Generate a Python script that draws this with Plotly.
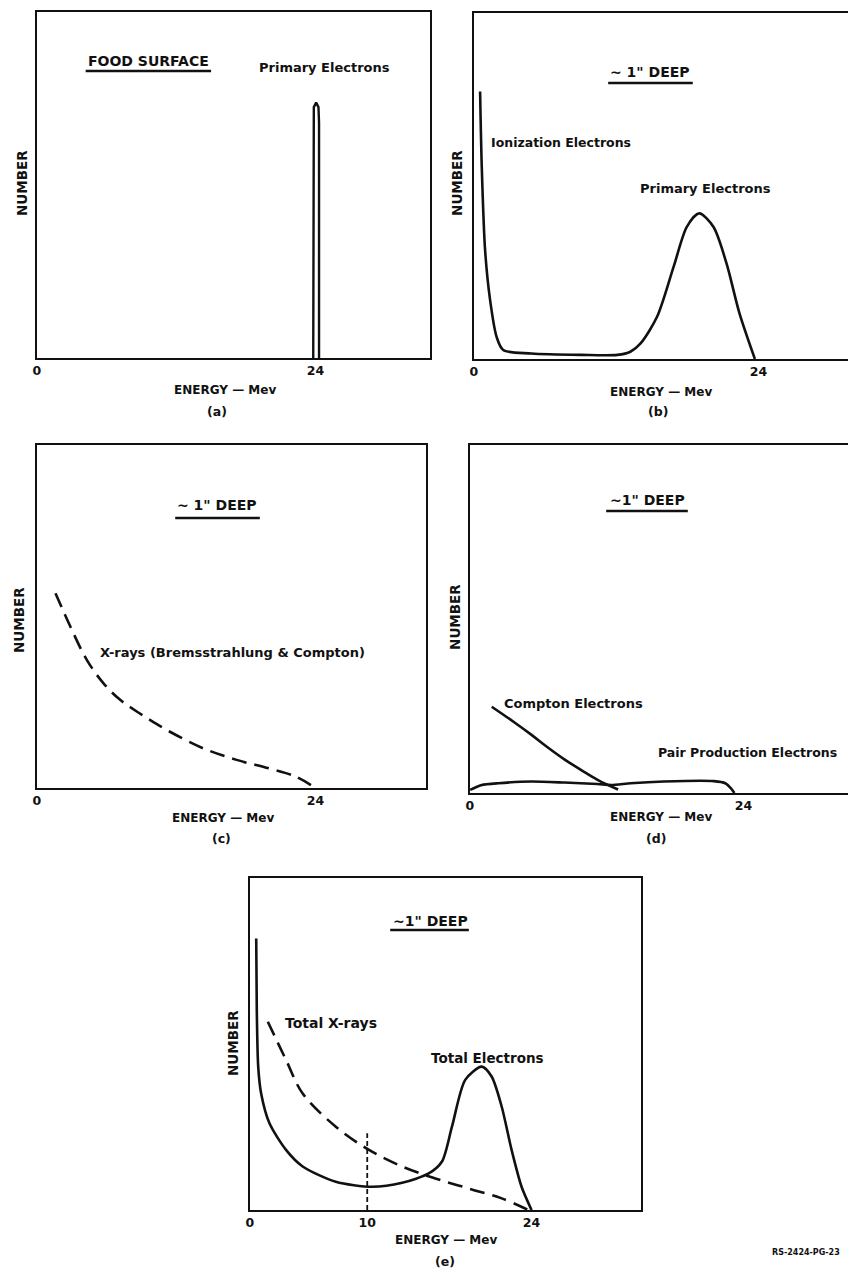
import plotly.graph_objects as go

# ---------------- data (energy in MeV, number in relative units 0-100) ----------------
a_primary_x = [23.8, 23.8, 23.85, 24.05, 24.25, 24.3, 24.3]
a_primary_y = [0, 68, 72.5, 73.8, 72.5, 68, 0]

b_elec_x = [0.53, 0.67, 0.95, 1.37, 1.92, 2.48, 4.85, 9.04, 12.1, 13.2, 14.06, 15.45,
            16.85, 17.96, 19.0, 20.2, 21.3, 22.4, 23.7]
b_elec_y = [77.3, 55.6, 31.5, 17.1, 6.4, 2.6, 1.6, 1.2, 1.2, 2.1, 4.5, 12.2,
            26.7, 38.2, 42.1, 38.2, 27.7, 13.2, 0]

c_xray_x = [1.6, 2.89, 4.31, 5.74, 7.17, 8.6, 10.0, 11.46, 14.3, 17.2, 20.0, 22.3, 24.0]
c_xray_y = [56.8, 47.0, 37.3, 30.5, 25.7, 22.3, 19.3, 16.4, 11.6, 8.2, 5.7, 3.3, 0]

d_compton_x = [1.92, 3.95, 5.41, 6.87, 8.32, 9.77, 11.2, 13.0]
d_compton_y = [24.8, 20.2, 16.7, 13.0, 9.6, 6.6, 3.8, 1.0]

d_pair_x = [0.03, 1.05, 2.5, 5.4, 8.3, 11.2, 12.4, 14.1, 17.0, 21.4, 22.4, 22.9, 23.2]
d_pair_y = [0.9, 2.3, 2.8, 3.3, 3.0, 2.6, 2.3, 2.8, 3.3, 3.4, 2.8, 1.3, 0]

e_elec_x = [0.54, 0.59, 0.71, 0.96, 1.67, 3.08, 4.5, 7.32, 10.4, 12.98, 15.24, 16.37,
            17.22, 18.35, 19.76, 20.6, 21.46, 22.3, 23.15, 24.0]
e_elec_y = [81.8, 60.2, 43.2, 35.1, 26.1, 18.1, 13.1, 8.5, 7.0, 8.2, 11.0, 14.6,
            25.1, 39.2, 43.2, 40.2, 31.1, 18.1, 7.0, 0]

e_xray_x = [1.53, 3.08, 4.5, 7.32, 10.15, 12.98, 15.8, 18.63, 21.46, 23.72]
e_xray_y = [56.7, 45.2, 35.1, 25.1, 18.1, 13.1, 9.5, 6.5, 3.5, 0]

e_marker_x = [10, 10]
e_marker_y = [0, 23.1]

ticks_abcd = [0, 24]
ticks_e = [0, 10, 24]

# ---------------- layout helpers ----------------
# the page body has an 8px margin; the figure is sized so it ends at the window edge
OFF = 8
W, H = 856 - OFF, 1276 - OFF
FONT = "DejaVu Sans"
INK = "#111111"


def px(x):
    return (x - OFF) / W


def py(y):
    return 1 - (y - OFF) / H


fig = go.Figure()

solid = dict(color=INK, width=2.6)
dashed = dict(color=INK, width=2.6, dash="15px,8px")

fig.add_trace(go.Scatter(x=a_primary_x, y=a_primary_y, mode="lines", line=dict(color=INK, width=2.4),
                         xaxis="x", yaxis="y"))
fig.add_trace(go.Scatter(x=b_elec_x, y=b_elec_y, mode="lines", line=solid, line_shape="spline",
                         line_smoothing=0.8, xaxis="x2", yaxis="y2"))
fig.add_trace(go.Scatter(x=c_xray_x, y=c_xray_y, mode="lines", line=dashed, line_shape="spline",
                         line_smoothing=1.0, xaxis="x3", yaxis="y3"))
fig.add_trace(go.Scatter(x=d_compton_x, y=d_compton_y, mode="lines", line=solid, line_shape="spline",
                         line_smoothing=1.0, xaxis="x4", yaxis="y4"))
fig.add_trace(go.Scatter(x=d_pair_x, y=d_pair_y, mode="lines", line=solid, line_shape="spline",
                         line_smoothing=0.6, xaxis="x4", yaxis="y4"))
fig.add_trace(go.Scatter(x=e_elec_x, y=e_elec_y, mode="lines", line=solid, line_shape="spline",
                         line_smoothing=0.75, xaxis="x5", yaxis="y5"))
fig.add_trace(go.Scatter(x=e_xray_x, y=e_xray_y, mode="lines", line=dashed, line_shape="spline",
                         line_smoothing=1.0, xaxis="x5", yaxis="y5"))
fig.add_trace(go.Scatter(x=e_marker_x, y=e_marker_y, mode="lines",
                         line=dict(color=INK, width=1.8, dash="5px,3px"), xaxis="x5", yaxis="y5"))

# panel geometry in pixels: (left, right, top, bottom, px per MeV, right side closed?, ticks)
panels = [
    (33, 428, 12, 358, 280 / 24, True, ticks_abcd),
    (472, 856, 13, 359, 286 / 24, False, ticks_abcd),
    (33, 424, 445, 788, 280 / 24, True, ticks_abcd),
    (468, 856, 445, 793, 275 / 24, False, ticks_abcd),
    (247, 640, 878, 1210, 283 / 24, True, ticks_e),
]

layout = dict(
    width=W, height=H, margin=dict(l=0, r=0, t=0, b=0),
    paper_bgcolor="white", plot_bgcolor="white", showlegend=False,
    font=dict(family=FONT, color=INK),
)
for i, (l, r, t, b, scale, closed, tv) in enumerate(panels, start=1):
    sx = "" if i == 1 else str(i)
    layout["xaxis" + sx] = dict(
        domain=[max(0, px(l)), min(1, px(r))], range=[0, (r - l) / scale], anchor="y" + sx,
        showline=True, linecolor=INK, linewidth=2.4, mirror=True,
        showgrid=False, zeroline=False, ticks="", tickvals=tv,
        ticktext=[f"<b>{v}</b>" for v in tv], tickfont=dict(size=12.5, family=FONT, color=INK),
        fixedrange=True,
    )
    layout["yaxis" + sx] = dict(
        domain=[py(b), py(t)], range=[0, 100], anchor="x" + sx,
        showline=True, linecolor=INK, linewidth=2.4, mirror=closed,
        showgrid=False, zeroline=False, showticklabels=False, ticks="",
        fixedrange=True,
    )
fig.update_layout(**layout)

ann = []


def text(s, x, y, size=12, anchor="center", angle=0):
    ann.append(dict(text=f"<b>{s}</b>", x=px(x), y=py(y), xref="paper", yref="paper",
                    xanchor=anchor, yanchor="middle", showarrow=False, textangle=angle,
                    font=dict(size=size, family=FONT, color=INK)))


shapes = []


def underline(x0, x1, y):
    shapes.append(dict(type="line", xref="paper", yref="paper", x0=px(x0), x1=px(x1),
                       y0=py(y), y1=py(y), line=dict(color=INK, width=2.6)))


# (a)
text("FOOD SURFACE", 145, 61, 14)
underline(82, 208, 71)
text("Primary Electrons", 322, 67, 13)
text("NUMBER", 18, 183, 13.5, angle=-90)
text("ENERGY — Mev", 222, 390, 12)
text("(a)", 214, 411, 12.5)
# (b)
text('~ 1" DEEP', 649, 72, 14)
underline(607, 692, 83)
text("Ionization Electrons", 487, 142, 12.5, anchor="left")
text("Primary Electrons", 705, 188, 13)
text("NUMBER", 455, 183, 13.5, angle=-90)
text("ENERGY — Mev", 660, 392, 12)
text("(b)", 657, 411, 12.5)
# (c)
text('~ 1" DEEP', 214, 505, 14)
underline(172, 257, 518)
text("X-rays (Bremsstrahlung &amp; Compton)", 230, 653, 13)
text("NUMBER", 15, 620, 13.5, angle=-90)
text("ENERGY — Mev", 220, 818, 12)
text("(c)", 218, 838, 12.5)
# (d)
text('~1" DEEP', 647, 500, 14)
underline(605, 687, 511)
text("Compton Electrons", 500, 703, 13, anchor="left")
text("Pair Production Electrons", 655, 752, 12.5, anchor="left")
text("NUMBER", 453, 617, 13.5, angle=-90)
text("ENERGY — Mev", 660, 817, 12)
text("(d)", 655, 838, 12.5)
# (e)
text('~1" DEEP', 428, 921, 14)
underline(388, 467, 930)
text("Total X-rays", 280, 1023, 14, anchor="left")
text("Total Electrons", 486, 1058, 13.5)
text("NUMBER", 230, 1043, 13.5, angle=-90)
text("ENERGY — Mev", 444, 1240, 12)
text("(e)", 443, 1261, 12.5)
text("RS-2424-PG-23", 806, 1252, 8)

fig.update_layout(annotations=ann, shapes=shapes)
fig.write_html("out.html")
